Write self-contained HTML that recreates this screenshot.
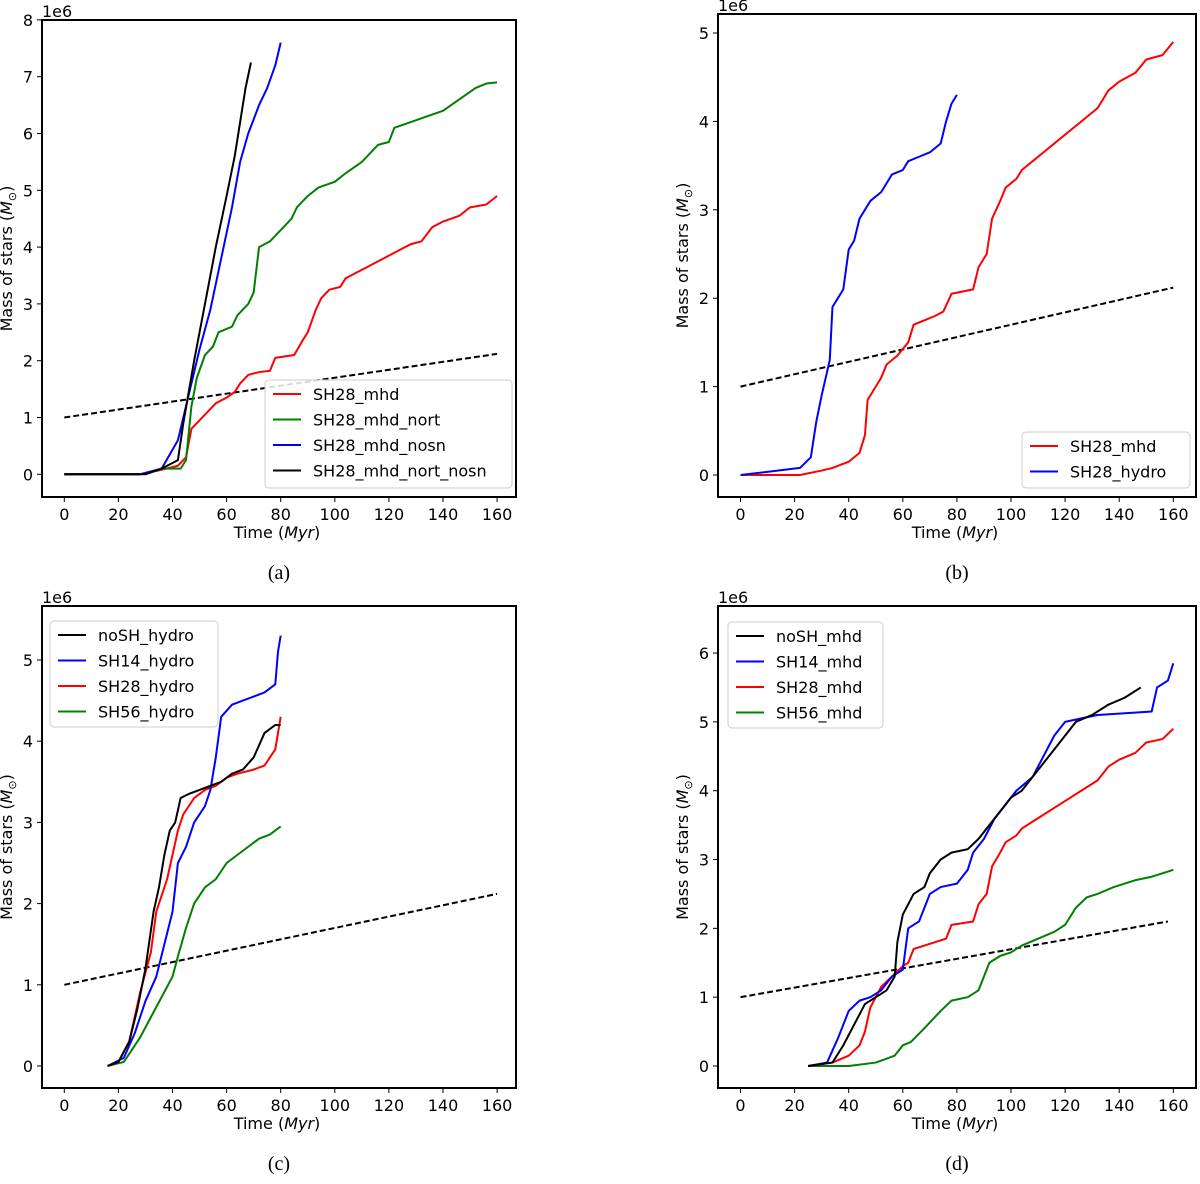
<!DOCTYPE html>
<html><head><meta charset="utf-8"><style>
body{margin:0;background:#fff;width:1200px;height:1179px;overflow:hidden}
svg text{font-family:"DejaVu Sans","Liberation Sans",sans-serif;fill:#000}
.cap{font-family:"Liberation Serif",serif;font-size:20px}
</style></head><body>
<svg id="s" width="1200" height="1179"></svg>
<script>
// ---- data (values in 1e6 solar masses, time in Myr) ----
const aRed=[[0,0],[28,0],[36,0.08],[42,0.15],[45,0.3],[47,0.8],[50,0.95],[53,1.1],[56,1.25],[60,1.35],[63,1.45],[65,1.6],[68,1.75],[72,1.8],[76,1.82],[78,2.05],[85,2.1],[88,2.35],[90,2.5],[93,2.9],[95,3.1],[98,3.25],[102,3.3],[104,3.45],[108,3.55],[112,3.65],[118,3.8],[122,3.9],[128,4.05],[132,4.1],[136,4.35],[140,4.45],[146,4.55],[150,4.7],[156,4.75],[160,4.9]];
const aGreen=[[0,0],[28,0],[32,0.05],[36,0.1],[43,0.1],[45,0.25],[47,1.2],[49,1.7],[52,2.1],[55,2.25],[57,2.5],[62,2.6],[64,2.8],[68,3.0],[70,3.2],[72,4.0],[76,4.1],[80,4.3],[84,4.5],[86,4.7],[90,4.9],[94,5.05],[100,5.15],[104,5.3],[110,5.5],[116,5.8],[120,5.85],[122,6.1],[128,6.2],[134,6.3],[140,6.4],[146,6.6],[152,6.8],[156,6.88],[160,6.9]];
const aBlue=[[0,0],[28,0],[32,0.05],[36,0.1],[42,0.6],[44,1.0],[47,1.6],[50,2.2],[54,2.9],[58,3.8],[62,4.7],[65,5.5],[68,6.0],[72,6.5],[75,6.8],[78,7.2],[80,7.6]];
const aBlack=[[0,0],[30,0],[36,0.1],[42,0.25],[44,0.9],[48,2.0],[52,3.0],[56,4.0],[60,4.9],[63,5.6],[66,6.5],[67,6.8],[69,7.25]];
const dashA=[[0,1],[160,2.12]];
const bRed=[[0,0],[22,0],[30,0.05],[34,0.08],[40,0.15],[44,0.25],[46,0.45],[47,0.85],[50,1.0],[52,1.1],[54,1.25],[58,1.35],[62,1.5],[64,1.7],[68,1.75],[72,1.8],[75,1.85],[78,2.05],[86,2.1],[88,2.35],[91,2.5],[93,2.9],[96,3.1],[98,3.25],[102,3.35],[104,3.45],[108,3.55],[112,3.65],[118,3.8],[122,3.9],[128,4.05],[132,4.15],[136,4.35],[140,4.45],[146,4.55],[150,4.7],[156,4.75],[160,4.9]];
const bBlue=[[0,0],[22,0.08],[26,0.2],[28,0.6],[30,0.9],[33,1.3],[34,1.9],[36,2.0],[38,2.1],[40,2.55],[42,2.65],[44,2.9],[46,3.0],[48,3.1],[52,3.2],[56,3.4],[60,3.45],[62,3.55],[66,3.6],[70,3.65],[74,3.75],[76,4.0],[78,4.2],[80,4.3]];
const dashB=[[0,1],[160,2.12]];
const cBlack=[[16,0],[20,0.05],[24,0.3],[27,0.7],[30,1.2],[33,1.9],[35,2.2],[37,2.6],[39,2.9],[41,3.0],[43,3.3],[46,3.35],[50,3.4],[54,3.45],[58,3.5],[62,3.6],[66,3.65],[70,3.8],[74,4.1],[78,4.2],[80,4.2]];
const cBlue=[[16,0],[22,0.1],[26,0.4],[30,0.8],[34,1.1],[37,1.5],[40,1.9],[42,2.5],[45,2.7],[48,3.0],[52,3.2],[54,3.4],[56,3.8],[58,4.3],[62,4.45],[66,4.5],[70,4.55],[74,4.6],[78,4.7],[79,5.1],[80,5.3]];
const cRed=[[16,0],[20,0.05],[24,0.3],[28,0.9],[32,1.4],[34,1.9],[36,2.1],[38,2.3],[40,2.6],[42,2.9],[44,3.1],[48,3.3],[52,3.4],[56,3.45],[60,3.55],[64,3.6],[70,3.65],[74,3.7],[78,3.9],[80,4.3]];
const cGreen=[[16,0],[22,0.05],[28,0.35],[32,0.6],[36,0.85],[40,1.1],[42,1.35],[45,1.7],[48,2.0],[52,2.2],[56,2.3],[60,2.5],[64,2.6],[68,2.7],[72,2.8],[76,2.85],[80,2.95]];
const dashC=[[0,1],[160,2.12]];
const dBlack=[[25,0],[34,0.05],[38,0.3],[42,0.6],[46,0.9],[50,1.0],[54,1.1],[57,1.3],[58,1.8],[60,2.2],[64,2.5],[68,2.6],[70,2.8],[74,3.0],[78,3.1],[84,3.15],[88,3.3],[92,3.5],[96,3.7],[100,3.9],[104,4.0],[108,4.2],[112,4.4],[116,4.6],[120,4.8],[124,5.0],[130,5.1],[136,5.25],[142,5.35],[148,5.5]];
const dBlue=[[25,0],[32,0.05],[36,0.4],[40,0.8],[44,0.95],[48,1.0],[52,1.1],[56,1.3],[60,1.4],[62,2.0],[66,2.1],[70,2.5],[74,2.6],[80,2.65],[84,2.85],[86,3.1],[90,3.3],[94,3.6],[98,3.8],[102,4.0],[108,4.2],[112,4.5],[116,4.8],[120,5.0],[126,5.05],[132,5.1],[140,5.12],[152,5.15],[154,5.5],[158,5.6],[160,5.85]];
const dRed=[[25,0],[34,0.05],[40,0.15],[44,0.3],[46,0.5],[48,0.85],[50,1.0],[52,1.15],[56,1.3],[60,1.45],[62,1.5],[64,1.7],[68,1.75],[72,1.8],[76,1.85],[78,2.05],[86,2.1],[88,2.35],[91,2.5],[93,2.9],[96,3.1],[98,3.25],[102,3.35],[104,3.45],[108,3.55],[112,3.65],[118,3.8],[122,3.9],[128,4.05],[132,4.15],[136,4.35],[140,4.45],[146,4.55],[150,4.7],[156,4.75],[160,4.9]];
const dGreen=[[25,0],[40,0],[50,0.05],[57,0.15],[60,0.3],[63,0.35],[68,0.55],[74,0.8],[78,0.95],[84,1.0],[88,1.1],[92,1.5],[96,1.6],[100,1.65],[104,1.75],[110,1.85],[116,1.95],[120,2.05],[124,2.3],[128,2.45],[132,2.5],[138,2.6],[146,2.7],[152,2.75],[156,2.8],[160,2.85]];
const dashD=[[0,1],[158,2.1]];
const xTicks=[0,20,40,60,80,100,120,140,160];
const yTicksA=[0,1,2,3,4,5,6,7,8], yTicksB=[0,1,2,3,4,5], yTicksC=[0,1,2,3,4,5], yTicksD=[0,1,2,3,4,5,6];
const C={r:'#ff0000',g:'#008000',b:'#0000ff',k:'#000000'};

const NS='http://www.w3.org/2000/svg', S=document.getElementById('s');
function mk(tag,at,parent,txt){const e=document.createElementNS(NS,tag);for(const k in at)e.setAttribute(k,at[k]);if(txt!==undefined)e.textContent=txt;(parent||S).appendChild(e);return e;}

function panel(id,p){
  const g=mk('g',{});
  
  
  const X=v=>p.x0+v*p.xs, Y=v=>p.y0-v*p.ys;
  // ticks
  xTicks.forEach(t=>{
    mk('line',{x1:X(t),x2:X(t),y1:p.bot,y2:p.bot+5,stroke:'#000','stroke-width':1},g);
    const tl=mk('text',{x:X(t),y:p.bot+23,'text-anchor':'middle','font-size':16},g,t);
    
    
  });
  p.yt.forEach(t=>{
    mk('line',{x1:p.left-5,x2:p.left,y1:Y(t),y2:Y(t),stroke:'#000','stroke-width':1},g);
    const tl=mk('text',{x:p.left-9,y:Y(t)+6,'text-anchor':'end','font-size':16},g,t);
    
    
  });
  mk('text',{x:p.left,y:p.top-3,'font-size':16},g,'1e6');
  const clip=mk('clipPath',{id:'c'+id},g);
  mk('rect',{x:p.left,y:p.top,width:p.right-p.left,height:p.bot-p.top},clip);
  const sg=mk('g',{'clip-path':'url(#c'+id+')'},g);
  p.series.forEach(s=>{
    const pl=mk('polyline',{points:s.d.map(q=>X(q[0])+','+Y(q[1])).join(' '),fill:'none',stroke:s.c,'stroke-width':s.dash?2:2,'stroke-dasharray':s.dash?'6,3':'none','stroke-linejoin':'round'},sg);
    
    
  });
  mk('rect',{x:p.left,y:p.top,width:p.right-p.left,height:p.bot-p.top,fill:'none',stroke:'#000','stroke-width':2},g);
  // labels
  const xl=mk('text',{x:(p.left+p.right)/2-2,y:p.bot+41,'text-anchor':'middle','font-size':16},g);
  
  
  xl.innerHTML='Time (<tspan font-style="italic">Myr</tspan>)';
  const ycx=p.left-30, ycy=(p.top+p.bot)/2;
  const yl=mk('text',{x:ycx,y:ycy,'text-anchor':'middle','font-size':16,transform:'rotate(-90 '+ycx+' '+ycy+')'},g);
  
  
  yl.innerHTML='Mass of stars (<tspan font-style="italic">M</tspan><tspan font-size="11" dy="4">⊙</tspan><tspan dy="-4">)</tspan>';
  const cp=mk('text',{x:(p.left+p.right)/2,y:p.bot+82,'text-anchor':'middle',class:'cap'},g,'('+id+')');
  
  
  // legend
  const L=p.leg, lg=mk('g',{},g);
  
  
  mk('rect',{x:L.x,y:L.y,width:L.w,height:L.h,rx:4,fill:'#fff','fill-opacity':0.85,stroke:'#ccc'},lg);
  L.items.forEach((it,i)=>{
    const yy=L.y+14+i*L.dy;
    mk('line',{x1:L.x+8,x2:L.x+36,y1:yy,y2:yy,stroke:it[1],'stroke-width':2},lg);
    const t=mk('text',{x:L.x+48,y:yy+6,'font-size':16},lg,it[0]);
    
    
  });
}
panel('a',{left:42,right:516,top:20,bot:497,x0:64.3,xs:2.705,y0:474.3,ys:56.8,yt:yTicksA,
  series:[{d:dashA,c:C.k,dash:1,n:'threshold-line'},{d:aRed,c:C.r,n:'sh28-mhd-line'},{d:aGreen,c:C.g,n:'sh28-mhd-nort-line'},{d:aBlue,c:C.b,n:'sh28-mhd-nosn-line'},{d:aBlack,c:C.k,n:'sh28-mhd-nort-nosn-line'}],
  leg:{x:265,y:380,w:247,h:108,dy:25.5,items:[['SH28_mhd',C.r],['SH28_mhd_nort',C.g],['SH28_mhd_nosn',C.b],['SH28_mhd_nort_nosn',C.k]]}});
panel('b',{left:718,right:1196,top:14,bot:497,x0:740.5,xs:2.705,y0:475,ys:88.4,yt:yTicksB,
  series:[{d:dashB,c:C.k,dash:1,n:'threshold-line'},{d:bRed,c:C.r,n:'sh28-mhd-line'},{d:bBlue,c:C.b,n:'sh28-hydro-line'}],
  leg:{x:1022,y:432,w:168,h:56,dy:25.5,items:[['SH28_mhd',C.r],['SH28_hydro',C.b]]}});
panel('c',{left:42,right:516,top:606,bot:1088,x0:64.3,xs:2.705,y0:1066,ys:81.2,yt:yTicksC,
  series:[{d:dashC,c:C.k,dash:1,n:'threshold-line'},{d:cGreen,c:C.g,n:'sh56-hydro-line'},{d:cRed,c:C.r,n:'sh28-hydro-line'},{d:cBlue,c:C.b,n:'sh14-hydro-line'},{d:cBlack,c:C.k,n:'nosh-hydro-line'}],
  leg:{x:50,y:621,w:168,h:106,dy:25.5,items:[['noSH_hydro',C.k],['SH14_hydro',C.b],['SH28_hydro',C.r],['SH56_hydro',C.g]]}});
panel('d',{left:718,right:1196,top:606,bot:1088,x0:740.5,xs:2.705,y0:1066,ys:68.83,yt:yTicksD,
  series:[{d:dashD,c:C.k,dash:1,n:'threshold-line'},{d:dGreen,c:C.g,n:'sh56-mhd-line'},{d:dRed,c:C.r,n:'sh28-mhd-line'},{d:dBlue,c:C.b,n:'sh14-mhd-line'},{d:dBlack,c:C.k,n:'nosh-mhd-line'}],
  leg:{x:728,y:622,w:155,h:106,dy:25.5,items:[['noSH_mhd',C.k],['SH14_mhd',C.b],['SH28_mhd',C.r],['SH56_mhd',C.g]]}});
</script>
</body></html>
